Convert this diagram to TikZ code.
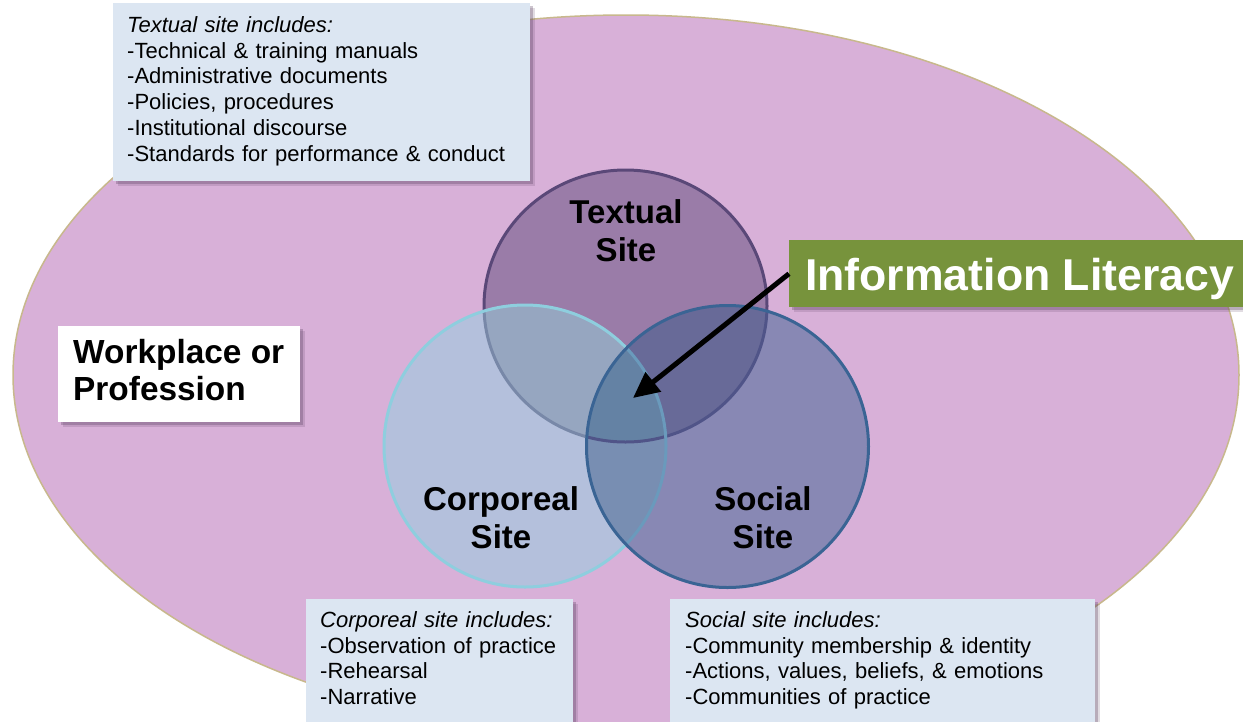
\documentclass[tikz,border=0pt]{standalone}
\usepackage{fontspec}
\setmainfont{Liberation Sans}
\usetikzlibrary{arrows.meta,shadows}

\definecolor{field}{HTML}{D8B0D8}
\definecolor{fieldedge}{HTML}{C8B88C}
\definecolor{boxfill}{HTML}{DCE6F2}
\definecolor{olive}{HTML}{77933C}
\definecolor{tfill}{HTML}{9A7CA8}
\definecolor{cfill}{HTML}{B4C0DC}
\definecolor{sfill}{HTML}{8888B4}
\definecolor{tcfill}{HTML}{96A6C0}
\definecolor{tsfill}{HTML}{686A98}
\definecolor{csfill}{HTML}{788EB2}
\definecolor{tcsfill}{HTML}{6482A4}
\definecolor{tline}{HTML}{5A4878}
\definecolor{tlinec}{HTML}{7888A8}
\definecolor{tlines}{HTML}{505488}
\definecolor{cline}{HTML}{8ECEDE}
\definecolor{clines}{HTML}{6A9ABC}
\definecolor{sline}{HTML}{3A6494}
\definecolor{shade}{HTML}{5A4060}

% the three sites
\newcommand\VennT{(625.5,306) ellipse [x radius=141.5pt, y radius=136pt]}
\newcommand\VennC{(525,446) circle [radius=141pt]}
\newcommand\VennS{(727.5,446.5) circle [radius=141pt]}

\begin{document}
\begin{tikzpicture}[x=1pt,y=-1pt,
  boxshadow/.style={
    drop shadow={shadow xshift=5pt, shadow yshift=-5pt, fill=shade, opacity=0.18},
    drop shadow={shadow xshift=3pt, shadow yshift=-3pt, fill=shade, opacity=0.3}},
  listbox/.style={rectangle, fill=boxfill, draw=none, inner sep=0pt, anchor=north west, boxshadow},
  listtext/.style={anchor=north west, inner sep=0pt, align=left, text width=420pt,
    font=\fontsize{22}{25.8}\selectfont},
  sitelabel/.style={inner sep=0pt, align=center, anchor=north,
    font=\fontsize{33}{38}\selectfont\bfseries},
  rim/.style={line width=3pt},
  arrowline/.style={line width=5pt, -{Triangle[length=26pt,width=24pt]}}]
\useasboundingbox (0,0) rectangle (1243,721);
\clip (0,0) rectangle (1243,721);
\fill[white] (0,0) rectangle (1243,721);

% workplace / profession field
\filldraw[fill=field, draw=fieldedge, line width=1.5pt]
  (626,375) ellipse [x radius=613pt, y radius=360pt];

% textual site
\fill[tfill] \VennT;
\draw[rim, tline] \VennT;

% corporeal site
\fill[cfill] \VennC;
\begin{scope}
  \clip \VennT;
  \fill[tcfill] \VennC;
\end{scope}
\begin{scope}
  \clip \VennC;
  \draw[rim, tlinec] \VennT;
\end{scope}
\draw[rim, cline] \VennC;

% social site
\fill[sfill] \VennS;
\begin{scope}
  \clip \VennT;
  \fill[tsfill] \VennS;
\end{scope}
\begin{scope}
  \clip \VennC;
  \fill[csfill] \VennS;
\end{scope}
\begin{scope}
  \clip \VennT;
  \clip \VennC;
  \fill[tcsfill] \VennS;
\end{scope}
\begin{scope}
  \clip \VennS;
  \draw[rim, tlines] \VennT;
  \draw[rim, clines] \VennC;
\end{scope}
\draw[rim, sline] \VennS;

% site labels
\node[sitelabel] (tlabel) at (626,199.4) {Textual\\Site};
\node[sitelabel] (clabel) at (501,486.4) {Corporeal\\Site};
\node[sitelabel] (slabel) at (763,486.4) {Social\\Site};

% textual site list
\node[listbox, minimum width=417pt, minimum height=178pt] (textbox) at (113,3) {};
\node[listtext] (texttxt) at (127,16.2) {\textit{Textual site includes:}\\
-Technical \& training manuals\\
-Administrative documents\\
-Policies, procedures\\
-Institutional discourse\\
-Standards for performance \& conduct};

% corporeal site list
\node[listbox, minimum width=267pt, minimum height=140pt] (corpbox) at (306,599) {};
\node[listtext] (corptxt) at (320,611.2) {\textit{Corporeal site includes:}\\
-Observation of practice\\
-Rehearsal\\
-Narrative};

% social site list
\node[listbox, minimum width=425pt, minimum height=140pt] (socbox) at (670,599) {};
\node[listtext] (soctxt) at (685,611.2) {\textit{Social site includes:}\\
-Community membership \& identity\\
-Actions, values, beliefs, \& emotions\\
-Communities of practice};

% workplace label
\node[rectangle, fill=white, inner sep=0pt, anchor=north west, boxshadow,
  minimum width=242pt, minimum height=96pt] (workbox) at (58,326) {};
\node[anchor=north west, inner sep=0pt, align=left,
  font=\fontsize{33.4}{37}\selectfont\bfseries] (worktxt) at (73,339.4)
  {Workplace or\\Profession};

% information literacy callout
\node[rectangle, fill=olive, inner sep=0pt, anchor=north west, boxshadow,
  minimum width=480pt, minimum height=67pt] (infobox) at (789,240) {};
\node[anchor=base west, inner sep=0pt, text=white,
  font=\fontsize{44.6}{50}\selectfont\bfseries] (infotxt) at (805,290)
  {Information Literacy};

\coordinate (core) at (633,398);
\draw[arrowline] (infobox.west) -- (core);
\end{tikzpicture}
\end{document}
